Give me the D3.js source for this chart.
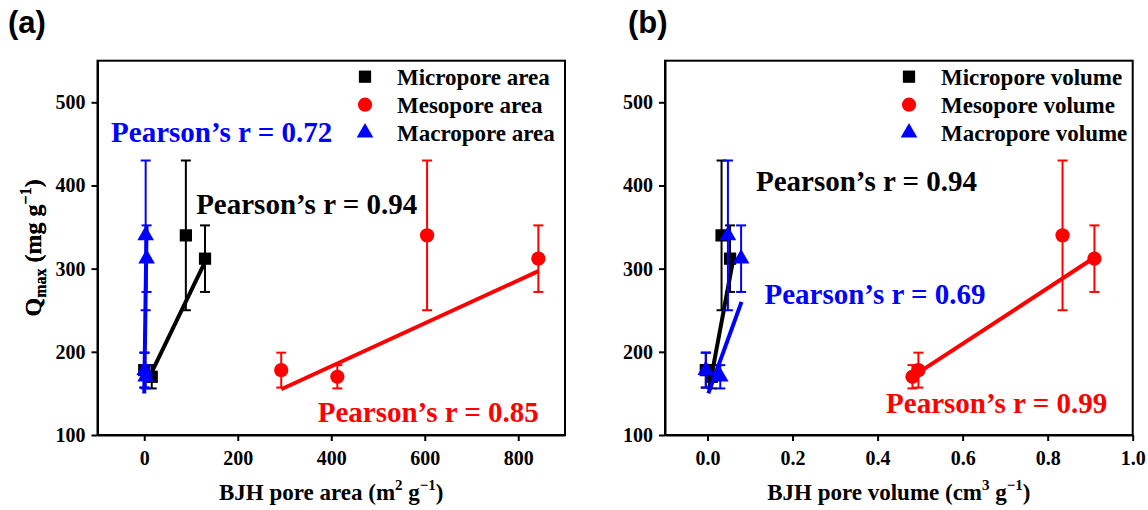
<!DOCTYPE html>
<html>
<head>
<meta charset="utf-8">
<script src="https://cdn.jsdelivr.net/npm/d3@7"></script>
<style>
  body { margin: 0; background: #fff; }
  svg text { font-family: "Liberation Serif", "Times New Roman", serif; font-weight: bold; }
  .axis path, .axis line { stroke: #000; stroke-width: 2; }
  .axis text { font-size: 20px; fill: #000; font-family: "Liberation Serif", "Times New Roman", serif; }
  .frame { fill: none; stroke: #000; stroke-width: 2; }
</style>
</head>
<body>
<svg id="chart" width="1148" height="510"></svg>
<script>
/* shared Qmax values (mg/g) and error bars */
var qmax = [340, 312, 178, 170];
var qmaxErr = [90, 40, 21, 14];

/* panel (a): BJH pore area, m2/g */
var microArea = [89, 130, 0, 16];
var mesoArea = [605, 843, 293, 413];
var macroArea = [3, 5, 1, 3];
var microAreaFit = [[6, 164], [130, 308]];
var mesoAreaFit = [[293, 155], [843, 297]];
var macroAreaFit = [[0, 150], [5, 352]];
var areaTicks = [0, 200, 400, 600, 800];

/* panel (b): BJH pore volume, cm3/g */
var microVol = [0.033, 0.053, -0.004, 0.01];
var mesoVol = [0.835, 0.91, 0.496, 0.482];
var macroVol = [0.048, 0.079, -0.004, 0.03];
var microVolFit = [[0.004, 156], [0.063, 318]];
var mesoVolFit = [[0.496, 175], [0.912, 314]];
var macroVolFit = [[0.002, 150], [0.08, 260]];
var volTicks = [0, 0.2, 0.4, 0.6, 0.8, 1.0];

var qTicks = [100, 200, 300, 400, 500];

var seriesNames = ["Micropore", "Mesopore", "Macropore"];
var colours = ["#000000", "#ff0000", "#0000ff"];
var symbols = [d3.symbolSquare, d3.symbolCircle, d3.symbolTriangle];
var symbolSizes = [150, 160, 120];

/* pearson labels: text, x, y (data units), series */
var pearsonA = [["Pearson\u2019s r = 0.94", 111, 366, 0], ["Pearson\u2019s r = 0.85", 371, 116, 1], ["Pearson\u2019s r = 0.72", -71, 452, 2]];
var pearsonB = [["Pearson\u2019s r = 0.94", 0.114, 393, 0], ["Pearson\u2019s r = 0.99", 0.42, 127, 1], ["Pearson\u2019s r = 0.69", 0.134, 258, 2]];

var serif = "'Liberation Serif', 'Times New Roman', serif";
var svg = d3.select("#chart");

function drawPanel(opt) {
  var w = opt.right - opt.left, h = opt.bottom - opt.top;
  var x = d3.scaleLinear().domain(opt.xDomain).range([0, w]);
  var y = d3.scaleLinear().domain([100, 550]).range([h, 0]);

  var g = svg.append("g").attr("transform", "translate(" + opt.left + "," + opt.top + ")");

  // axes
  g.append("g").attr("class", "axis")
    .attr("transform", "translate(0," + h + ")")
    .call(d3.axisBottom(x).tickValues(opt.xTicks).tickFormat(opt.xFormat).tickSize(6).tickPadding(10).tickSizeOuter(0));
  g.append("g").attr("class", "axis")
    .call(d3.axisLeft(y).tickValues(qTicks).tickSize(6).tickPadding(6).tickSizeOuter(0));
  g.selectAll(".axis").attr("font-family", serif).attr("font-size", 20);
  g.append("rect").attr("class", "frame").attr("width", w).attr("height", h);

  // series: error bars, fit line, markers
  opt.series.forEach(function (s, k) {
    var col = colours[k];
    var sg = g.append("g");
    var pts = s.x.map(function (v, i) { return { x: v, y: qmax[i], e: qmaxErr[i] }; });

    var eb = sg.selectAll(".eb").data(pts).enter().append("g")
      .attr("stroke", col).attr("stroke-width", 2);
    eb.append("line")
      .attr("x1", function (d) { return x(d.x); }).attr("x2", function (d) { return x(d.x); })
      .attr("y1", function (d) { return y(d.y - d.e); }).attr("y2", function (d) { return y(d.y + d.e); });
    [-1, 1].forEach(function (sgn) {
      eb.append("line")
        .attr("x1", function (d) { return x(d.x) - 5; }).attr("x2", function (d) { return x(d.x) + 5; })
        .attr("y1", function (d) { return y(d.y + sgn * d.e); }).attr("y2", function (d) { return y(d.y + sgn * d.e); });
    });

    sg.append("path").datum(s.fit)
      .attr("fill", "none").attr("stroke", col).attr("stroke-width", 4)
      .attr("d", d3.line().x(function (d) { return x(d[0]); }).y(function (d) { return y(d[1]); }));

    sg.selectAll(".pt").data(pts).enter().append("path")
      .attr("transform", function (d) { return "translate(" + x(d.x) + "," + y(d.y) + ")"; })
      .attr("d", d3.symbol().type(symbols[k]).size(symbolSizes[k]))
      .attr("fill", col);
  });

  // pearson labels
  g.selectAll(".pearson").data(opt.pearson).enter().append("text")
    .attr("x", function (d) { return x(d[1]); })
    .attr("y", function (d) { return y(d[2]); })
    .attr("fill", function (d) { return colours[d[3]]; })
    .style("font-family", serif)
    .style("font-size", "29px")
    .text(function (d) { return d[0]; });

  // legend
  var lg = g.append("g").attr("class", "legend");
  seriesNames.forEach(function (name, k) {
    var ly = 16 + k * 28;
    lg.append("path")
      .attr("transform", "translate(" + opt.legendX + "," + ly + ")")
      .attr("d", d3.symbol().type(symbols[k]).size(symbolSizes[k]))
      .attr("fill", colours[k]);
    lg.append("text")
      .attr("x", opt.legendX + 32).attr("y", ly).attr("dy", "0.35em")
      .style("font-family", serif)
      .style("font-size", "23px")
      .text(name + opt.legendSuffix);
  });

  // x title
  var xt = g.append("text")
    .attr("x", w / 2).attr("y", 500 - opt.top)
    .attr("text-anchor", "middle")
    .style("font-family", serif).style("font-size", "23px");
  xt.append("tspan").text(opt.xTitle[0]);
  xt.append("tspan").attr("dy", -10).style("font-size", "15px").text(opt.xTitle[1]);
  xt.append("tspan").attr("dy", 10).text(" g");
  xt.append("tspan").attr("dy", -10).style("font-size", "15px").text("\u22121");
  xt.append("tspan").attr("dy", 10).text(")");

  // y title
  var yt = g.append("text")
    .attr("transform", "translate(" + (41 - opt.left) + "," + (h / 2) + ") rotate(-90)")
    .attr("text-anchor", "middle")
    .style("font-family", serif).style("font-size", "24px");
  yt.append("tspan").text("Q");
  yt.append("tspan").attr("dy", 5).style("font-size", "16px").text("max");
  yt.append("tspan").attr("dy", -5).text(" (mg g");
  yt.append("tspan").attr("dy", -10).style("font-size", "16px").text("\u22121");
  yt.append("tspan").attr("dy", 10).text(")");

  // panel label
  svg.append("text")
    .attr("x", opt.labelX).attr("y", 33)
    .style("font-family", "'Liberation Sans', Arial, sans-serif")
    .style("font-size", "31px")
    .text(opt.label);
}

drawPanel({
  left: 97.5, right: 565, top: 60.7, bottom: 435,
  xDomain: [-100, 900], xTicks: areaTicks, xFormat: d3.format("d"),
  series: [{ x: microArea, fit: microAreaFit }, { x: mesoArea, fit: mesoAreaFit }, { x: macroArea, fit: macroAreaFit }],
  pearson: pearsonA,
  legendX: 267.5, legendSuffix: " area",
  xTitle: ["BJH pore area (m", "2"],
  label: "(a)", labelX: 8
});

drawPanel({
  left: 665, right: 1132.7, top: 60.7, bottom: 435,
  xDomain: [-0.1, 1.0], xTicks: volTicks, xFormat: d3.format(".1f"),
  series: [{ x: microVol, fit: microVolFit }, { x: mesoVol, fit: mesoVolFit }, { x: macroVol, fit: macroVolFit }],
  pearson: pearsonB,
  legendX: 244, legendSuffix: " volume",
  xTitle: ["BJH pore volume (cm", "3"],
  label: "(b)", labelX: 628
});
</script>
</body>
</html>
